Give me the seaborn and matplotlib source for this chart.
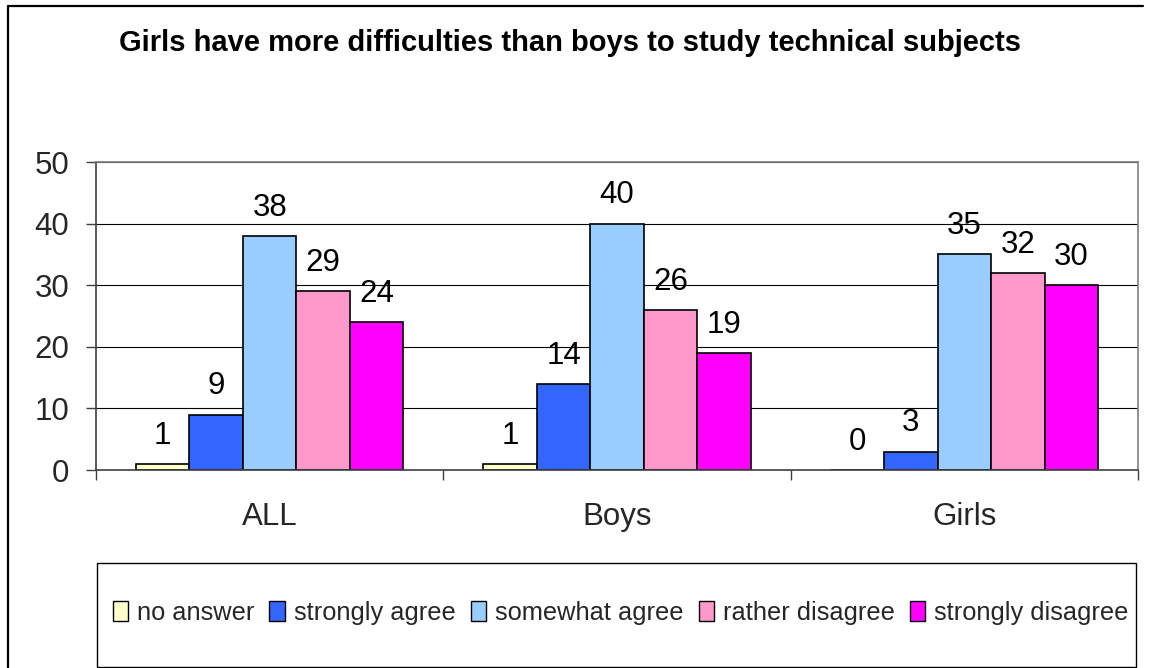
import matplotlib
matplotlib.use("Agg")
import matplotlib.pyplot as plt
from matplotlib.patches import Rectangle
from matplotlib.lines import Line2D
import seaborn as sns
import pandas as pd

# ---- data ----
groups = ["ALL", "Boys", "Girls"]
responses = ["no answer", "strongly agree", "somewhat agree",
             "rather disagree", "strongly disagree"]
no_answer = [1, 1, 0]
strongly_agree = [9, 14, 3]
somewhat_agree = [38, 40, 35]
rather_disagree = [29, 26, 32]
strongly_disagree = [24, 19, 30]
colors = ["#FFFFCC", "#3366FF", "#99CCFF", "#FF99CC", "#FF00FF"]
title = "Girls have more difficulties than boys to study technical subjects"

series = [no_answer, strongly_agree, somewhat_agree, rather_disagree, strongly_disagree]
rows = [(g, r, v) for r, vals in zip(responses, series) for g, v in zip(groups, vals)]
df = pd.DataFrame(rows, columns=["group", "response", "value"])

sns.set_theme(style="white")
plt.rcParams["font.family"] = ["Liberation Sans", "DejaVu Sans"]

W, H = 1153, 668
fig = plt.figure(figsize=(W / 100, H / 100), dpi=100)
fig.patch.set_facecolor("white")
ax = fig.add_axes([96 / W, 1 - 470 / H, (1138 - 96) / W, (470 - 162) / H])

sns.barplot(data=df, x="group", y="value", hue="response", order=groups,
            hue_order=responses, palette=colors, saturation=1, width=0.77,
            edgecolor="black", linewidth=1.2, ax=ax, errorbar=None)

for c in ax.containers:
    ax.bar_label(c, fmt="%g", padding=9.5, fontsize=22.5, color="black")

ax.set_ylim(0, 50)
ax.set_yticks(range(0, 51, 10))
ax.set_xlim(-0.5, 2.5)
ax.set_xlabel("")
ax.set_ylabel("")
ax.yaxis.grid(True, color="black", linewidth=0.8)
ax.set_axisbelow(True)

for s in ["top", "right"]:
    ax.spines[s].set_color("#808080")
    ax.spines[s].set_linewidth(1.2)
for s in ["left", "bottom"]:
    ax.spines[s].set_color("#404040")
    ax.spines[s].set_linewidth(1.2)

ax.tick_params(axis="y", which="major", direction="out", length=7.2, width=1,
               color="#404040", labelsize=22.5, pad=12, left=True)
ax.set_xticks([-0.5, 0.5, 1.5, 2.5], minor=True)
ax.tick_params(axis="x", which="minor", direction="out", length=7.2, width=1,
               color="#404040", bottom=True)
ax.tick_params(axis="x", which="major", length=0, labelsize=22.5, pad=23)

# legend
leg0 = ax.get_legend()
handles = leg0.legend_handles
labels = [t.get_text() for t in leg0.get_texts()]
leg0.remove()
fig.add_artist(Rectangle((97 / W, 1 - 667 / H), (1136 - 97) / W, (667 - 563) / H,
                         transform=fig.transFigure, facecolor="white",
                         edgecolor="black", linewidth=1.0))
leg = fig.legend(handles, labels, loc="center", bbox_to_anchor=(620.5 / W, 1 - 613 / H),
                 ncol=5, frameon=False, fontsize=18.3, handlelength=0.6,
                 handleheight=0.8, handletextpad=0.35, columnspacing=0.6,
                 borderaxespad=0)
for h in leg.legend_handles:
    h.set_edgecolor("black")
    h.set_linewidth(1.0)

fig.text(570 / W, 1 - 43 / H, title, ha="center", va="center",
         fontsize=21, fontweight="bold", color="black")

# outer chart border (left & top visible)
fig.add_artist(Line2D([8 / W, 8 / W], [0, 1 - 6 / H], transform=fig.transFigure,
                      color="black", linewidth=1.6))
fig.add_artist(Line2D([8 / W, 1143 / W], [1 - 6 / H, 1 - 6 / H], transform=fig.transFigure,
                      color="black", linewidth=1.6))

fig.savefig("out.png", dpi=100, facecolor="white")
